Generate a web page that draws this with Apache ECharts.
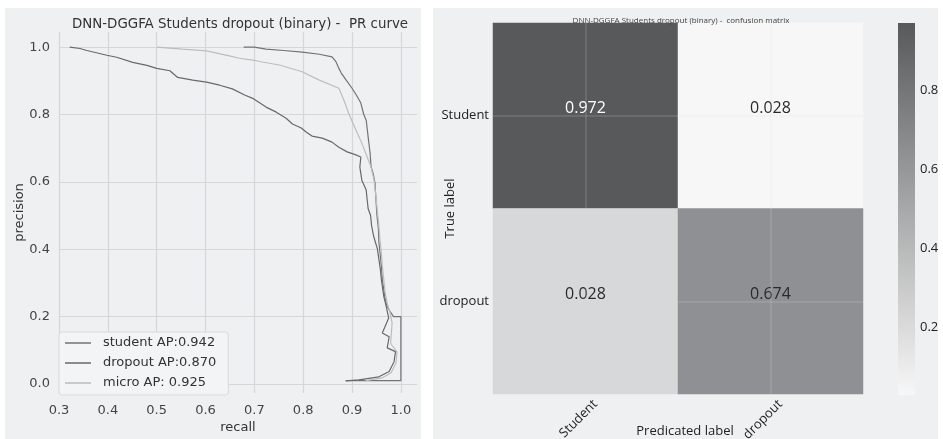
<!DOCTYPE html>
<html>
<head>
<meta charset="utf-8">
<script src="https://cdn.jsdelivr.net/npm/echarts@6/dist/echarts.min.js"></script>
<style>
  html, body { margin: 0; padding: 0; background: #ffffff; }
  #chart { width: 943px; height: 439px; }
</style>
</head>
<body>
<div id="chart"></div>
<script>
// ---- PR curve data: [recall, precision] ----
const studentPR = [
  [0.678,1.0],[0.70,1.0],[0.724,0.994],[0.76,0.99],[0.798,0.985],[0.833,0.979],[0.859,0.971],
  [0.867,0.957],[0.872,0.94],[0.878,0.923],[0.888,0.902],[0.9,0.878],[0.91,0.855],[0.918,0.834],
  [0.924,0.80],[0.929,0.783],[0.933,0.733],[0.937,0.685],[0.939,0.644],[0.943,0.626],[0.947,0.596],
  [0.949,0.546],[0.951,0.50],[0.954,0.46],[0.955,0.42],[0.958,0.38],[0.96,0.35],[0.962,0.31],
  [0.965,0.28],[0.968,0.25],[0.972,0.23],[0.978,0.215],[0.985,0.20],[1.0,0.2],[1.0,0.01],[0.887,0.01]
];
const dropoutPR = [
  [0.322,1.0],[0.343,0.996],[0.357,0.99],[0.398,0.976],[0.418,0.97],[0.451,0.955],[0.48,0.946],
  [0.50,0.937],[0.527,0.93],[0.543,0.91],[0.574,0.902],[0.602,0.896],[0.629,0.887],[0.655,0.876],
  [0.68,0.858],[0.698,0.847],[0.724,0.822],[0.745,0.807],[0.765,0.789],[0.778,0.772],[0.796,0.76],
  [0.806,0.748],[0.818,0.736],[0.839,0.73],[0.859,0.718],[0.873,0.703],[0.89,0.689],[0.908,0.68],
  [0.918,0.674],[0.916,0.644],[0.92,0.605],[0.929,0.576],[0.931,0.546],[0.933,0.52],[0.938,0.50],
  [0.94,0.47],[0.944,0.44],[0.948,0.42],[0.952,0.40],[0.955,0.37],[0.958,0.34],[0.96,0.31],
  [0.963,0.28],[0.965,0.26],[0.97,0.23],[0.975,0.196],[0.962,0.151],[0.976,0.14],[0.972,0.107],
  [0.989,0.096],[0.986,0.066],[0.976,0.037],[0.955,0.021],[0.914,0.012],[0.887,0.009]
];
const microPR = [
  [0.50,1.0],[0.553,0.994],[0.602,0.989],[0.649,0.974],[0.669,0.967],[0.70,0.961],[0.716,0.956],
  [0.751,0.947],[0.798,0.927],[0.833,0.902],[0.873,0.878],[0.884,0.84],[0.894,0.80],[0.908,0.754],
  [0.92,0.715],[0.931,0.674],[0.939,0.644],[0.945,0.605],[0.949,0.555],[0.952,0.51],[0.955,0.47],
  [0.957,0.43],[0.96,0.39],[0.962,0.35],[0.965,0.31],[0.968,0.27],[0.972,0.24],[0.978,0.21],
  [0.982,0.181],[0.979,0.12],[0.992,0.095],[0.99,0.062],[0.98,0.033],[0.962,0.018],[0.928,0.01]
];
const prSeriesNames = ['student AP:0.942', 'dropout AP:0.870', 'micro AP: 0.925'];
const recallTicks = [0.3, 0.4, 0.5, 0.6, 0.7, 0.8, 0.9, 1.0];
const precisionTicks = [0.0, 0.2, 0.4, 0.6, 0.8, 1.0];

// ---- confusion matrix data ----
const predictedLabels = ['Student', 'dropout'];
const trueLabels = ['Student', 'dropout'];
const confusion = [
  [0.972, 0.028],
  [0.028, 0.674]
];
const colorbarTicks = [0.2, 0.4, 0.6, 0.8];
const colorbarRange = [0.028, 0.972];

// ---- styling ----
const panelBg = '#eff0f2';
const gridColor = '#d6d7d9';
const lineColors = ['#737375', '#69696b', '#bdbdbf'];
const cellFill = [['#58595b', '#f7f7f7'], ['#d7d8da', '#8f9093']];
const cellText = [['#ffffff', '#2a2a2a'], ['#2a2a2a', '#2a2a2a']];
const colorbarLight = '#f7f7f7';
const colorbarDark = '#58595b';
const leftFont = 'DejaVu Sans';
const rightFont = 'Open Sans';

const heatData = [];
trueLabels.forEach((t, r) => {
  predictedLabels.forEach((p, c) => {
    heatData.push({
      value: [c, r, confusion[r][c]],
      itemStyle: { color: cellFill[r][c] },
      label: { color: cellText[r][c] }
    });
  });
});

const chart = echarts.init(document.getElementById('chart'), null, { renderer: 'canvas' });

const option = {
  animation: false,
  backgroundColor: '#ffffff',
  graphic: [
    { type: 'rect', z: -10, shape: { x: 5, y: 8, width: 416, height: 431 }, style: { fill: panelBg } },
    { type: 'rect', z: -10, shape: { x: 433, y: 8, width: 505, height: 431 }, style: { fill: panelBg } }
  ],
  title: [
    {
      text: 'DNN-DGGFA Students dropout (binary) -  PR curve',
      left: 235, top: 13, textAlign: 'center',
      textStyle: { fontFamily: leftFont, fontSize: 13.4, fontWeight: 'normal', color: '#333333' }
    },
    {
      text: 'DNN-DGGFA Students dropout (binary) -  confusion matrix',
      left: 676, top: 12, textAlign: 'center',
      textStyle: { fontFamily: rightFont, fontSize: 8, fontWeight: 'normal', color: '#444444' }
    }
  ],
  legend: {
    data: prSeriesNames,
    left: 59, top: 332,
    orient: 'vertical',
    icon: 'rect',
    itemWidth: 26, itemHeight: 1.5, itemGap: 0,
    padding: [1, 12, 2, 6],
    backgroundColor: '#f3f4f5',
    borderColor: '#d9dadc', borderWidth: 1, borderRadius: 3,
    textStyle: { fontFamily: leftFont, fontSize: 13, color: '#333333', lineHeight: 20, padding: [0, 0, 0, 7] }
  },
  grid: [
    { left: 59, top: 32, width: 358, height: 361, outerBoundsMode: 'none', containLabel: false },
    { left: 493, top: 23, width: 370, height: 371, outerBoundsMode: 'none', containLabel: false },
    // colour bar: gradient from the lowest to the highest cell value
    {
      left: 898, top: 23, width: 17, height: 372, outerBoundsMode: 'none', containLabel: false,
      show: true, borderWidth: 0,
      backgroundColor: new echarts.graphic.LinearGradient(0, 0, 0, 1, [
        { offset: 0, color: colorbarDark },
        { offset: 1, color: colorbarLight }
      ])
    }
  ],
  xAxis: [
    {
      gridIndex: 0, type: 'value', min: 0.3, max: 1.033,
      name: 'recall', nameLocation: 'middle', nameGap: 28, nameMoveOverlap: false,
      nameTextStyle: { fontFamily: leftFont, fontSize: 13, color: '#333333' },
      axisLine: { show: false },
      axisTick: { show: false, customValues: recallTicks },
      axisLabel: { customValues: recallTicks, margin: 11, fontFamily: leftFont, fontSize: 13, color: '#444444',
                   formatter: v => v.toFixed(1) },
      splitLine: { show: true, lineStyle: { color: gridColor, width: 1.2 } }
    },
    {
      gridIndex: 1, type: 'category', data: predictedLabels,
      name: 'Predicated label', nameLocation: 'middle', nameGap: 31, nameMoveOverlap: false,
      nameTextStyle: { fontFamily: rightFont, fontSize: 13, color: '#222222', padding: [0, 0, 0, 14] },
      axisLine: { show: false }, axisTick: { show: false },
      axisLabel: { rotate: 45, margin: 18, padding: [0, -14, 0, 0],
                   fontFamily: rightFont, fontSize: 13, color: '#222222' },
      splitLine: { show: false }
    },
    { gridIndex: 2, type: 'value', show: false, min: 0, max: 1 }
  ],
  yAxis: [
    {
      gridIndex: 0, type: 'value', min: -0.027, max: 1.045,
      name: 'precision', nameLocation: 'middle', nameGap: 33, nameMoveOverlap: false,
      nameTextStyle: { fontFamily: leftFont, fontSize: 13, color: '#333333' },
      axisLine: { show: false },
      axisTick: { show: false, customValues: precisionTicks },
      axisLabel: { customValues: precisionTicks, margin: 9, fontFamily: leftFont, fontSize: 13, color: '#444444',
                   formatter: v => v.toFixed(1) },
      splitLine: { show: true, lineStyle: { color: gridColor, width: 1.2 } }
    },
    {
      gridIndex: 1, type: 'category', data: trueLabels, inverse: true,
      name: 'True label', nameLocation: 'middle', nameGap: 36, nameMoveOverlap: false,
      nameTextStyle: { fontFamily: rightFont, fontSize: 13, color: '#222222' },
      axisLine: { show: false }, axisTick: { show: false },
      axisLabel: { margin: 4, fontFamily: rightFont, fontSize: 13, color: '#222222' },
      splitLine: { show: false }
    },
    {
      gridIndex: 2, type: 'value', position: 'right',
      min: colorbarRange[0], max: colorbarRange[1],
      axisLine: { show: false },
      axisTick: { show: false, customValues: colorbarTicks },
      axisLabel: { customValues: colorbarTicks, margin: 5, fontFamily: rightFont, fontSize: 13, color: '#222222',
                   formatter: v => v.toFixed(1) },
      splitLine: { show: false }
    }
  ],
  series: [
    {
      name: prSeriesNames[0], type: 'line', xAxisIndex: 0, yAxisIndex: 0,
      data: studentPR, showSymbol: false, symbol: 'none',
      lineStyle: { color: lineColors[0], width: 1.2 }, itemStyle: { color: lineColors[0] }
    },
    {
      name: prSeriesNames[1], type: 'line', xAxisIndex: 0, yAxisIndex: 0,
      data: dropoutPR, showSymbol: false, symbol: 'none',
      lineStyle: { color: lineColors[1], width: 1.2 }, itemStyle: { color: lineColors[1] }
    },
    {
      name: prSeriesNames[2], type: 'line', xAxisIndex: 0, yAxisIndex: 0,
      data: microPR, showSymbol: false, symbol: 'none',
      lineStyle: { color: lineColors[2], width: 1.2 }, itemStyle: { color: lineColors[2] }
    },
    {
      type: 'heatmap', xAxisIndex: 1, yAxisIndex: 1,
      data: heatData,
      label: {
        show: true, fontFamily: rightFont, fontSize: 16, offset: [0, -7],
        formatter: p => p.value[2].toFixed(3)
      },
      markLine: {
        silent: true, symbol: 'none', label: { show: false },
        lineStyle: { color: 'rgba(225,225,225,0.2)', width: 1.5, type: 'solid' },
        data: [
          { xAxis: predictedLabels[0] }, { xAxis: predictedLabels[1] },
          { yAxis: trueLabels[0] }, { yAxis: trueLabels[1] }
        ]
      }
    }
  ]
};

chart.setOption(option);
</script>
</body>
</html>
